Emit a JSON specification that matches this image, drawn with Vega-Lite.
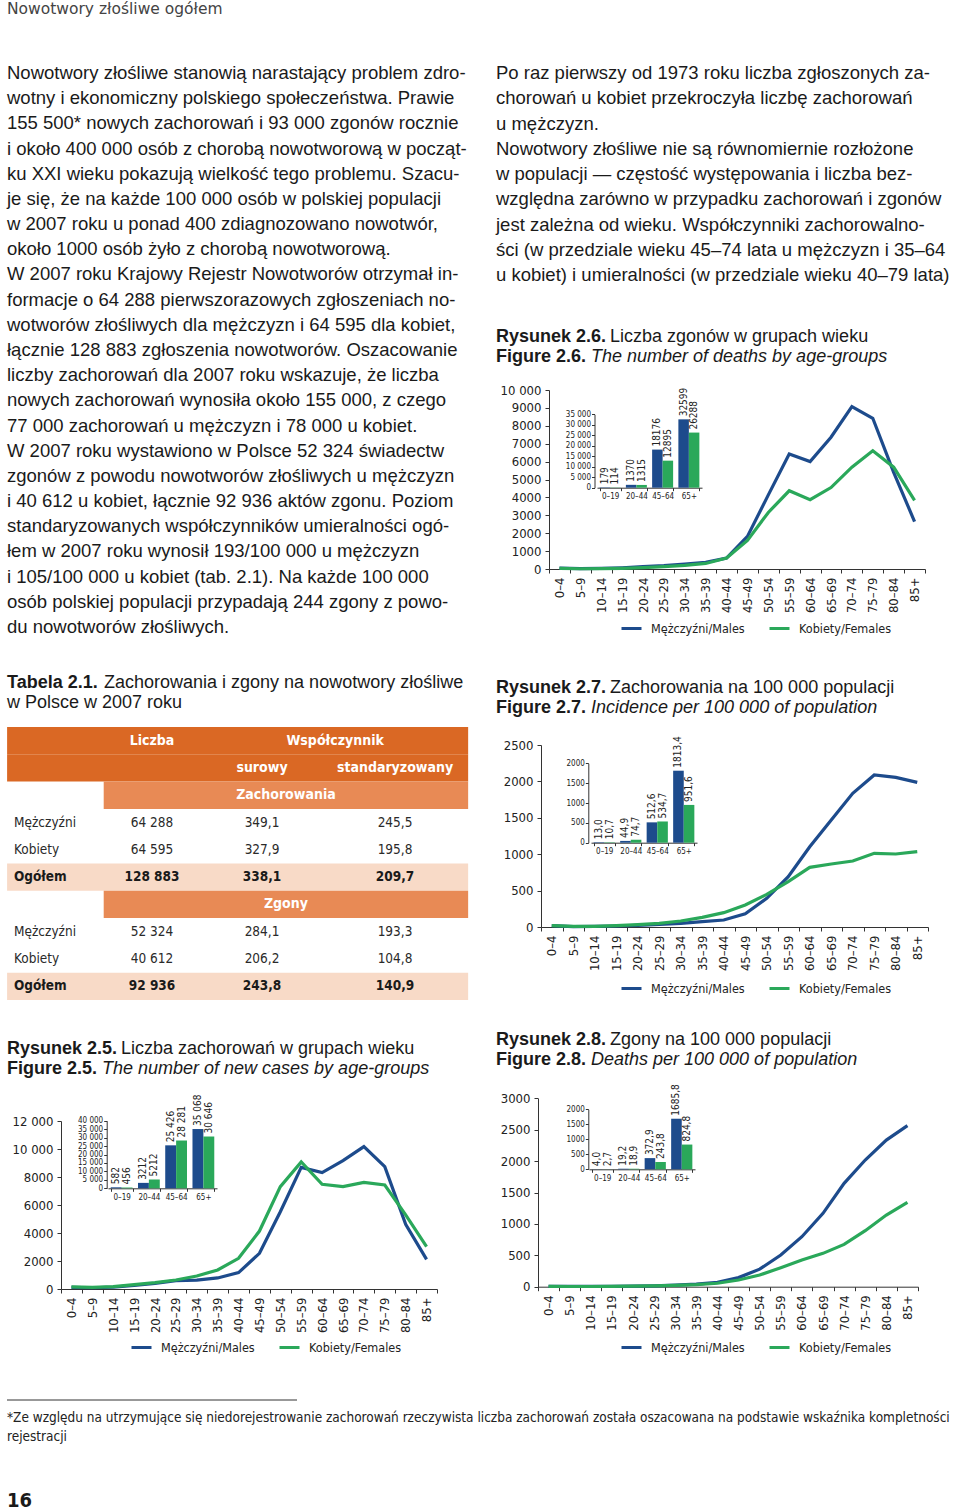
{
"$schema": "https://vega.github.io/schema/vega-lite/v6.json",
"background": "white",
"padding": {"left": 1, "top": 0, "right": 0, "bottom": 0},
"spacing": 0,
"config": {
  "view": {"stroke": null},
  "font": "Liberation Sans",
  "scale": {"pointPadding": 0},
  "axis": {"grid": false, "domainColor": "#333", "tickColor": "#333", "labelColor": "#222", "labelFont": "Liberation Sans Narrow, DejaVu Sans Condensed, Roboto Condensed, Arial Narrow, Roboto, sans-serif", "domainWidth": 1, "tickWidth": 1, "title": null},
  "legend": {"labelFont": "Liberation Sans Narrow, DejaVu Sans Condensed, Roboto Condensed, Arial Narrow, Roboto, sans-serif", "labelColor": "#222"}
},
"resolve": {"scale": {"color": "independent", "xOffset": "independent"}, "legend": {"color": "independent"}},
"vconcat": [
  {
    "width": 462, "height": 60,
    "data": {"values": [{"i": 1, "t": "Nowotwory złośliwe ogółem"}]},
    "mark": {"type": "text", "align": "left", "baseline": "middle", "font": "DejaVu Sans", "fontSize": 15.5, "color": "#444"},
    "encoding": {"x": {"value": 0}, "y": {"field": "i", "type": "ordinal", "scale": {"type": "point", "range": [9, 9], "padding": 0}, "axis": null}, "text": {"field": "t"}}
  },
  {
    "spacing": 21,
    "resolve": {"scale": {"color": "independent", "xOffset": "independent"}, "legend": {"color": "independent"}},
    "hconcat": [
      {
        "spacing": 0,
        "resolve": {"scale": {"color": "independent", "xOffset": "independent"}, "legend": {"color": "independent"}},
        "vconcat": [
          {
            "width": 462, "height": 600,
            "data": {"values": [
              {"i": 1, "t": "Nowotwory złośliwe stanowią narastający problem zdro-"},
              {"i": 2, "t": "wotny i ekonomiczny polskiego społeczeństwa. Prawie"},
              {"i": 3, "t": "155 500* nowych zachorowań i 93 000 zgonów rocznie"},
              {"i": 4, "t": "i około 400 000 osób z chorobą nowotworową w począt-"},
              {"i": 5, "t": "ku XXI wieku pokazują wielkość tego problemu. Szacu-"},
              {"i": 6, "t": "je się, że na każde 100 000 osób w polskiej populacji"},
              {"i": 7, "t": "w 2007 roku u ponad 400 zdiagnozowano nowotwór,"},
              {"i": 8, "t": "około 1000 osób żyło z chorobą nowotworową."},
              {"i": 9, "t": "W 2007 roku Krajowy Rejestr Nowotworów otrzymał in-"},
              {"i": 10, "t": "formacje o 64 288 pierwszorazowych zgłoszeniach no-"},
              {"i": 11, "t": "wotworów złośliwych dla mężczyzn i 64 595 dla kobiet,"},
              {"i": 12, "t": "łącznie 128 883 zgłoszenia nowotworów. Oszacowanie"},
              {"i": 13, "t": "liczby zachorowań dla 2007 roku wskazuje, że liczba"},
              {"i": 14, "t": "nowych zachorowań wynosiła około 155 000, z czego"},
              {"i": 15, "t": "77 000 zachorowań u mężczyzn i 78 000 u kobiet."},
              {"i": 16, "t": "W 2007 roku wystawiono w Polsce 52 324 świadectw"},
              {"i": 17, "t": "zgonów z powodu nowotworów złośliwych u mężczyzn"},
              {"i": 18, "t": "i 40 612 u kobiet, łącznie 92 936 aktów zgonu. Poziom"},
              {"i": 19, "t": "standaryzowanych współczynników umieralności ogó-"},
              {"i": 20, "t": "łem w 2007 roku wynosił 193/100 000 u mężczyzn"},
              {"i": 21, "t": "i 105/100 000 u kobiet (tab. 2.1). Na każde 100 000"},
              {"i": 22, "t": "osób polskiej populacji przypadają 244 zgony z powo-"},
              {"i": 23, "t": "du nowotworów złośliwych."}
            ]},
            "mark": {"type": "text", "align": "left", "baseline": "middle", "fontSize": 18.5, "color": "#1a1a1a"},
            "encoding": {"x": {"value": 0}, "y": {"field": "i", "type": "ordinal", "scale": {"type": "point", "range": [13, 567], "padding": 0}, "axis": null}, "text": {"field": "t"}}
          },
          {
            "width": 462, "height": 67,
            "data": {"values": [
              {"i": 1, "b": "Tabela 2.1.", "t": "Zachorowania i zgony na nowotwory złośliwe"},
              {"i": 2, "b": "", "t": "w Polsce w 2007 roku"}
            ]},
            "encoding": {"x": {"value": 0}, "y": {"field": "i", "type": "ordinal", "scale": {"type": "point", "range": [23, 43], "padding": 0}, "axis": null}},
            "layer": [
              {"mark": {"type": "text", "align": "left", "baseline": "middle", "fontSize": 18, "fontWeight": "bold", "color": "#1a1a1a"}, "encoding": {"text": {"field": "b"}}},
              {"transform": [{"filter": "datum.i == 1"}], "mark": {"type": "text", "align": "left", "baseline": "middle", "fontSize": 18, "dx": 97, "color": "#1a1a1a"}, "encoding": {"text": {"field": "t"}}},
              {"transform": [{"filter": "datum.i == 2"}], "mark": {"type": "text", "align": "left", "baseline": "middle", "fontSize": 18, "color": "#1a1a1a"}, "encoding": {"text": {"field": "t"}}}
            ]
          },
          {
            "width": 462, "height": 273,
            "encoding": {
              "y": {"field": "r", "type": "ordinal", "sort": null, "scale": {"type": "band", "domain": ["r1","r2","r3","r4","r5","r6","r7","r8","r9","r10"], "paddingInner": 0, "paddingOuter": 0}, "axis": null}
            },
            "layer": [
              {
                "data": {"values": [
                  {"r": "r1", "k": "h", "a": -0.05, "b": 3.55},
                  {"r": "r2", "k": "h", "a": -0.05, "b": 3.55},
                  {"r": "r3", "k": "s", "a": 0.65, "b": 3.55},
                  {"r": "r6", "k": "t", "a": -0.05, "b": 3.55},
                  {"r": "r7", "k": "s", "a": 0.65, "b": 3.55},
                  {"r": "r10", "k": "t", "a": -0.05, "b": 3.55}
                ]},
                "mark": {"type": "rect"},
                "encoding": {
                  "x": {"field": "a", "type": "quantitative", "scale": {"domain": [0, 1, 2, 3], "range": [7, 145, 255, 388], "nice": false, "zero": false}, "axis": null},
                  "x2": {"field": "b"},
                  "color": {"field": "k", "type": "nominal", "scale": {"domain": ["h", "s", "t"], "range": ["#da6824", "#e88a55", "#f8dac7"]}, "legend": null}
                }
              },
              {
                "data": {"values": [
                  {"r": "r1", "c": 1, "t": "Liczba", "s": "h"},
                  {"r": "r1", "c": 2.55, "t": "Współczynnik", "s": "h"},
                  {"r": "r2", "c": 2, "t": "surowy", "s": "h"},
                  {"r": "r2", "c": 3, "t": "standaryzowany", "s": "h"},
                  {"r": "r3", "c": 2.18, "t": "Zachorowania", "s": "h"},
                  {"r": "r4", "c": 0, "t": "Mężczyźni", "s": "l"},
                  {"r": "r4", "c": 1, "t": "64 288", "s": "n"},
                  {"r": "r4", "c": 2, "t": "349,1", "s": "n"},
                  {"r": "r4", "c": 3, "t": "245,5", "s": "n"},
                  {"r": "r5", "c": 0, "t": "Kobiety", "s": "l"},
                  {"r": "r5", "c": 1, "t": "64 595", "s": "n"},
                  {"r": "r5", "c": 2, "t": "327,9", "s": "n"},
                  {"r": "r5", "c": 3, "t": "195,8", "s": "n"},
                  {"r": "r6", "c": 0, "t": "Ogółem", "s": "lb"},
                  {"r": "r6", "c": 1, "t": "128 883", "s": "b"},
                  {"r": "r6", "c": 2, "t": "338,1", "s": "b"},
                  {"r": "r6", "c": 3, "t": "209,7", "s": "b"},
                  {"r": "r7", "c": 2.18, "t": "Zgony", "s": "h"},
                  {"r": "r8", "c": 0, "t": "Mężczyźni", "s": "l"},
                  {"r": "r8", "c": 1, "t": "52 324", "s": "n"},
                  {"r": "r8", "c": 2, "t": "284,1", "s": "n"},
                  {"r": "r8", "c": 3, "t": "193,3", "s": "n"},
                  {"r": "r9", "c": 0, "t": "Kobiety", "s": "l"},
                  {"r": "r9", "c": 1, "t": "40 612", "s": "n"},
                  {"r": "r9", "c": 2, "t": "206,2", "s": "n"},
                  {"r": "r9", "c": 3, "t": "104,8", "s": "n"},
                  {"r": "r10", "c": 0, "t": "Ogółem", "s": "lb"},
                  {"r": "r10", "c": 1, "t": "92 936", "s": "b"},
                  {"r": "r10", "c": 2, "t": "243,8", "s": "b"},
                  {"r": "r10", "c": 3, "t": "140,9", "s": "b"}
                ]},
                "encoding": {
                  "x": {"field": "c", "type": "quantitative", "scale": {"domain": [0, 1, 2, 3], "range": [7, 145, 255, 388], "nice": false, "zero": false}, "axis": null},
                  "text": {"field": "t"}
                },
                "layer": [
                  {"transform": [{"filter": "datum.s == 'h'"}], "mark": {"type": "text", "align": "center", "baseline": "middle", "font": "Liberation Sans Narrow, DejaVu Sans Condensed, Roboto Condensed, Roboto, sans-serif", "fontSize": 14, "fontWeight": "bold", "color": "white"}},
                  {"transform": [{"filter": "datum.s == 'n'"}], "mark": {"type": "text", "align": "center", "baseline": "middle", "font": "Liberation Sans Narrow, DejaVu Sans Condensed, Roboto Condensed, Roboto, sans-serif", "fontSize": 13.5, "color": "#2a2a2a"}},
                  {"transform": [{"filter": "datum.s == 'b'"}], "mark": {"type": "text", "align": "center", "baseline": "middle", "font": "Liberation Sans Narrow, DejaVu Sans Condensed, Roboto Condensed, Roboto, sans-serif", "fontSize": 13.5, "fontWeight": "bold", "color": "#1a1a1a"}},
                  {"transform": [{"filter": "datum.s == 'l'"}], "mark": {"type": "text", "align": "left", "baseline": "middle", "font": "Liberation Sans Narrow, DejaVu Sans Condensed, Roboto Condensed, Roboto, sans-serif", "fontSize": 13.5, "color": "#2a2a2a"}},
                  {"transform": [{"filter": "datum.s == 'lb'"}], "mark": {"type": "text", "align": "left", "baseline": "middle", "font": "Liberation Sans Narrow, DejaVu Sans Condensed, Roboto Condensed, Roboto, sans-serif", "fontSize": 13.5, "fontWeight": "bold", "color": "#1a1a1a"}}
                ]
              }
            ]
          },
          {
            "width": 462, "height": 370,
            "resolve": {"scale": {"x": "independent", "y": "independent"}, "axis": {"x": "independent", "y": "independent"}},
            "layer": [
              {
                "data": {"values": [
                  {"i": 1, "b": "Rysunek 2.5.", "t": "Liczba zachorowań w grupach wieku"},
                  {"i": 2, "b": "Figure 2.5.", "t": "The number of new cases by age-groups"}
                ]},
                "encoding": {"x": {"value": 0}, "y": {"field": "i", "type": "ordinal", "scale": {"type": "point", "range": [49, 69], "padding": 0}, "axis": null}},
                "layer": [
                  {"mark": {"type": "text", "align": "left", "baseline": "middle", "fontSize": 18, "fontWeight": "bold", "color": "#1a1a1a"}, "encoding": {"text": {"field": "b"}}},
                  {"transform": [{"filter": "datum.i == 1"}], "mark": {"type": "text", "align": "left", "baseline": "middle", "fontSize": 18, "dx": 114, "color": "#1a1a1a"}, "encoding": {"text": {"field": "t"}}},
                  {"transform": [{"filter": "datum.i == 2"}], "mark": {"type": "text", "align": "left", "baseline": "middle", "fontSize": 18, "dx": 95, "fontStyle": "italic", "color": "#1a1a1a"}, "encoding": {"text": {"field": "t"}}}
                ]
              },
              {
                "data": {"values": [
                  {"age": "0–4", "M": 120, "K": 150},
                  {"age": "5–9", "M": 90, "K": 120},
                  {"age": "10–14", "M": 130, "K": 170},
                  {"age": "15–19", "M": 250, "K": 310},
                  {"age": "20–24", "M": 400, "K": 450},
                  {"age": "25–29", "M": 600, "K": 640},
                  {"age": "30–34", "M": 640, "K": 930},
                  {"age": "35–39", "M": 790, "K": 1360},
                  {"age": "40–44", "M": 1170, "K": 2190},
                  {"age": "45–49", "M": 2550, "K": 4140},
                  {"age": "50–54", "M": 5520, "K": 7310},
                  {"age": "55–59", "M": 8690, "K": 9070},
                  {"age": "60–64", "M": 8310, "K": 7480},
                  {"age": "65–69", "M": 9170, "K": 7310},
                  {"age": "70–74", "M": 10170, "K": 7620},
                  {"age": "75–79", "M": 8740, "K": 7430},
                  {"age": "80–84", "M": 4620, "K": 5290},
                  {"age": "85+", "M": 2120, "K": 3020}
                ]},
                "transform": [{"fold": ["M", "K"], "as": ["sex", "v"]}],
                "mark": {"type": "line", "strokeWidth": 3.2},
                "encoding": {
                  "x": {"field": "age", "type": "nominal", "sort": null, "scale": {"type": "band", "range": [54, 430], "paddingInner": 0, "paddingOuter": 0}, "axis": {"orient": "bottom", "offset": -81, "labelAngle": 270, "labelFontSize": 13, "tickBand": "extent", "tickSize": 4, "labelPadding": 4}},
                  "y": {"field": "v", "type": "quantitative", "scale": {"domain": [0, 12000], "range": [289, 121], "nice": false}, "axis": {"orient": "left", "offset": -54, "values": [0, 2000, 4000, 6000, 8000, 10000, 12000], "labelExpr": "datum.value >= 10000 ? replace(format(datum.value, ','), ',', ' ') : format(datum.value, 'd')", "labelFontSize": 13, "tickSize": 4, "labelPadding": 4}},
                  "color": {"field": "sex", "type": "nominal", "scale": {"domain": ["M", "K"], "range": ["#1d4b8c", "#2aa85a"]}, "legend": {"orient": "none", "legendX": 123, "legendY": 336, "direction": "horizontal", "title": null, "symbolType": "stroke", "symbolSize": 400, "symbolStrokeWidth": 3, "labelFontSize": 12.5, "labelOffset": 8, "columnPadding": 18, "labelLimit": 300, "labelExpr": "datum.label == 'M' ? 'Mężczyźni/Males' : 'Kobiety/Females'"}}
                }
              },
              {
                "data": {"values": [
                  {"g": "0–19", "sex": "M", "v": 582, "lab": "582"},
                  {"g": "0–19", "sex": "K", "v": 456, "lab": "456"},
                  {"g": "20–44", "sex": "M", "v": 3212, "lab": "3212"},
                  {"g": "20–44", "sex": "K", "v": 5212, "lab": "5212"},
                  {"g": "45–64", "sex": "M", "v": 25426, "lab": "25 426"},
                  {"g": "45–64", "sex": "K", "v": 28281, "lab": "28 281"},
                  {"g": "65+", "sex": "M", "v": 35068, "lab": "35 068"},
                  {"g": "65+", "sex": "K", "v": 30646, "lab": "30 646"}
                ]},
                "encoding": {
                  "x": {"field": "g", "type": "nominal", "sort": null, "scale": {"type": "band", "range": [101, 210], "paddingInner": 0.2, "paddingOuter": 0.1}, "axis": {"orient": "bottom", "offset": -181.7, "labelAngle": 0, "labelFontSize": 8, "tickBand": "extent", "tickSize": 3, "labelPadding": 2}},
                  "xOffset": {"field": "sex", "type": "nominal", "scale": {"domain": ["M", "K"]}},
                  "y": {"field": "v", "type": "quantitative", "scale": {"domain": [0, 40000], "range": [188.3, 120.7], "nice": false}, "axis": {"orient": "left", "offset": -99.7, "values": [0, 5000, 10000, 15000, 20000, 25000, 30000, 35000, 40000], "labelExpr": "datum.value >= 1000 ? replace(format(datum.value, ','), ',', ' ') : '0'", "labelFontSize": 8, "tickSize": 3, "labelPadding": 1}}
                },
                "layer": [
                  {"mark": {"type": "bar"}, "encoding": {"color": {"field": "sex", "type": "nominal"}}},
                  {"mark": {"type": "text", "angle": 270, "align": "left", "baseline": "middle", "dx": 3, "fontSize": 10, "font": "Liberation Sans Narrow, DejaVu Sans Condensed, Roboto Condensed, Roboto, sans-serif", "color": "#222"}, "encoding": {"text": {"field": "lab"}}}
                ]
              }
            ]
          }
        ]
      },
      {
        "spacing": 0,
        "resolve": {"scale": {"color": "independent", "xOffset": "independent"}, "legend": {"color": "independent"}},
        "vconcat": [
          {
            "width": 460, "height": 260,
            "data": {"values": [
              {"i": 1, "t": "Po raz pierwszy od 1973 roku liczba zgłoszonych za-"},
              {"i": 2, "t": "chorowań u kobiet przekroczyła liczbę zachorowań"},
              {"i": 3, "t": "u mężczyzn."},
              {"i": 4, "t": "Nowotwory złośliwe nie są równomiernie rozłożone"},
              {"i": 5, "t": "w populacji — częstość występowania i liczba bez-"},
              {"i": 6, "t": "względna zarówno w przypadku zachorowań i zgonów"},
              {"i": 7, "t": "jest zależna od wieku. Współczynniki zachorowalno-"},
              {"i": 8, "t": "ści (w przedziale wieku 45–74 lata u mężczyzn i 35–64"},
              {"i": 9, "t": "u kobiet) i umieralności (w przedziale wieku 40–79 lata)"}
            ]},
            "mark": {"type": "text", "align": "left", "baseline": "middle", "fontSize": 18.5, "color": "#1a1a1a"},
            "encoding": {"x": {"value": 0}, "y": {"field": "i", "type": "ordinal", "scale": {"type": "point", "range": [13, 215], "padding": 0}, "axis": null}, "text": {"field": "t"}}
          },
          {
            "width": 460, "height": 350,
            "resolve": {"scale": {"x": "independent", "y": "independent"}, "axis": {"x": "independent", "y": "independent"}},
            "layer": [
              {
                "data": {"values": [
                  {"i": 1, "b": "Rysunek 2.6.", "t": "Liczba zgonów w grupach wieku"},
                  {"i": 2, "b": "Figure 2.6.", "t": "The number of deaths by age-groups"}
                ]},
                "encoding": {"x": {"value": 0}, "y": {"field": "i", "type": "ordinal", "scale": {"type": "point", "range": [17, 37], "padding": 0}, "axis": null}},
                "layer": [
                  {"mark": {"type": "text", "align": "left", "baseline": "middle", "fontSize": 18, "fontWeight": "bold", "color": "#1a1a1a"}, "encoding": {"text": {"field": "b"}}},
                  {"transform": [{"filter": "datum.i == 1"}], "mark": {"type": "text", "align": "left", "baseline": "middle", "fontSize": 18, "dx": 114, "color": "#1a1a1a"}, "encoding": {"text": {"field": "t"}}},
                  {"transform": [{"filter": "datum.i == 2"}], "mark": {"type": "text", "align": "left", "baseline": "middle", "fontSize": 18, "dx": 95, "fontStyle": "italic", "color": "#1a1a1a"}, "encoding": {"text": {"field": "t"}}}
                ]
              },
              {
                "data": {"values": [
                  {"age": "0–4", "M": 50, "K": 40},
                  {"age": "5–9", "M": 20, "K": 15},
                  {"age": "10–14", "M": 35, "K": 25},
                  {"age": "15–19", "M": 70, "K": 40},
                  {"age": "20–24", "M": 130, "K": 80},
                  {"age": "25–29", "M": 185, "K": 130},
                  {"age": "30–34", "M": 280, "K": 200},
                  {"age": "35–39", "M": 370, "K": 310},
                  {"age": "40–44", "M": 610, "K": 610},
                  {"age": "45–49", "M": 1820, "K": 1600},
                  {"age": "50–54", "M": 4140, "K": 3160},
                  {"age": "55–59", "M": 6430, "K": 4370},
                  {"age": "60–64", "M": 6000, "K": 3870},
                  {"age": "65–69", "M": 7360, "K": 4550},
                  {"age": "70–74", "M": 9070, "K": 5690},
                  {"age": "75–79", "M": 8420, "K": 6600},
                  {"age": "80–84", "M": 5400, "K": 5690},
                  {"age": "85+", "M": 2650, "K": 3830}
                ]},
                "transform": [{"fold": ["M", "K"], "as": ["sex", "v"]}],
                "mark": {"type": "line", "strokeWidth": 3.2},
                "encoding": {
                  "x": {"field": "age", "type": "nominal", "sort": null, "scale": {"type": "band", "range": [53, 429], "paddingInner": 0, "paddingOuter": 0}, "axis": {"orient": "bottom", "offset": -101, "labelAngle": 270, "labelFontSize": 13, "tickBand": "extent", "tickSize": 4, "labelPadding": 4}},
                  "y": {"field": "v", "type": "quantitative", "scale": {"domain": [0, 10000], "range": [249, 70], "nice": false}, "axis": {"orient": "left", "offset": -53, "values": [0, 1000, 2000, 3000, 4000, 5000, 6000, 7000, 8000, 9000, 10000], "labelExpr": "datum.value >= 10000 ? replace(format(datum.value, ','), ',', ' ') : format(datum.value, 'd')", "labelFontSize": 13, "tickSize": 4, "labelPadding": 4}},
                  "color": {"field": "sex", "type": "nominal", "scale": {"domain": ["M", "K"], "range": ["#1d4b8c", "#2aa85a"]}, "legend": {"orient": "none", "legendX": 124, "legendY": 297, "direction": "horizontal", "title": null, "symbolType": "stroke", "symbolSize": 400, "symbolStrokeWidth": 3, "labelFontSize": 12.5, "labelOffset": 8, "columnPadding": 18, "labelLimit": 300, "labelExpr": "datum.label == 'M' ? 'Mężczyźni/Males' : 'Kobiety/Females'"}}
                }
              },
              {
                "data": {"values": [
                  {"g": "0–19", "sex": "M", "v": 179, "lab": "179"},
                  {"g": "0–19", "sex": "K", "v": 114, "lab": "114"},
                  {"g": "20–44", "sex": "M", "v": 1370, "lab": "1370"},
                  {"g": "20–44", "sex": "K", "v": 1315, "lab": "1315"},
                  {"g": "45–64", "sex": "M", "v": 18176, "lab": "18176"},
                  {"g": "45–64", "sex": "K", "v": 12895, "lab": "12895"},
                  {"g": "65+", "sex": "M", "v": 32599, "lab": "32599"},
                  {"g": "65+", "sex": "K", "v": 26288, "lab": "26288"}
                ]},
                "encoding": {
                  "x": {"field": "g", "type": "nominal", "sort": null, "scale": {"type": "band", "range": [101, 206], "paddingInner": 0.2, "paddingOuter": 0.1}, "axis": {"orient": "bottom", "offset": -182.3, "labelAngle": 0, "labelFontSize": 8, "tickBand": "extent", "tickSize": 3, "labelPadding": 2}},
                  "xOffset": {"field": "sex", "type": "nominal", "scale": {"domain": ["M", "K"]}},
                  "y": {"field": "v", "type": "quantitative", "scale": {"domain": [0, 35000], "range": [167.7, 94.3], "nice": false}, "axis": {"orient": "left", "offset": -98.5, "values": [0, 5000, 10000, 15000, 20000, 25000, 30000, 35000], "labelExpr": "datum.value >= 1000 ? replace(format(datum.value, ','), ',', ' ') : '0'", "labelFontSize": 8, "tickSize": 3, "labelPadding": 1}}
                },
                "layer": [
                  {"mark": {"type": "bar"}, "encoding": {"color": {"field": "sex", "type": "nominal"}}},
                  {"mark": {"type": "text", "angle": 270, "align": "left", "baseline": "middle", "dx": 3, "fontSize": 10, "font": "Liberation Sans Narrow, DejaVu Sans Condensed, Roboto Condensed, Roboto, sans-serif", "color": "#222"}, "encoding": {"text": {"field": "lab"}}}
                ]
              }
            ]
          },
          {
            "width": 460, "height": 355,
            "resolve": {"scale": {"x": "independent", "y": "independent"}, "axis": {"x": "independent", "y": "independent"}},
            "layer": [
              {
                "data": {"values": [
                  {"i": 1, "b": "Rysunek 2.7.", "t": "Zachorowania na 100 000 populacji"},
                  {"i": 2, "b": "Figure 2.7.", "t": "Incidence per 100 000 of population"}
                ]},
                "encoding": {"x": {"value": 0}, "y": {"field": "i", "type": "ordinal", "scale": {"type": "point", "range": [18, 38], "padding": 0}, "axis": null}},
                "layer": [
                  {"mark": {"type": "text", "align": "left", "baseline": "middle", "fontSize": 18, "fontWeight": "bold", "color": "#1a1a1a"}, "encoding": {"text": {"field": "b"}}},
                  {"transform": [{"filter": "datum.i == 1"}], "mark": {"type": "text", "align": "left", "baseline": "middle", "fontSize": 18, "dx": 114, "color": "#1a1a1a"}, "encoding": {"text": {"field": "t"}}},
                  {"transform": [{"filter": "datum.i == 2"}], "mark": {"type": "text", "align": "left", "baseline": "middle", "fontSize": 18, "dx": 95, "fontStyle": "italic", "color": "#1a1a1a"}, "encoding": {"text": {"field": "t"}}}
                ]
              },
              {
                "data": {"values": [
                  {"age": "0–4", "M": 18, "K": 18},
                  {"age": "5–9", "M": 5, "K": 9},
                  {"age": "10–14", "M": 9, "K": 9},
                  {"age": "15–19", "M": 14, "K": 18},
                  {"age": "20–24", "M": 23, "K": 32},
                  {"age": "25–29", "M": 37, "K": 50},
                  {"age": "30–34", "M": 50, "K": 82},
                  {"age": "35–39", "M": 73, "K": 133},
                  {"age": "40–44", "M": 96, "K": 197},
                  {"age": "45–49", "M": 183, "K": 302},
                  {"age": "50–54", "M": 394, "K": 449},
                  {"age": "55–59", "M": 691, "K": 623},
                  {"age": "60–64", "M": 1103, "K": 820},
                  {"age": "65–69", "M": 1470, "K": 865},
                  {"age": "70–74", "M": 1836, "K": 907},
                  {"age": "75–79", "M": 2088, "K": 1012},
                  {"age": "80–84", "M": 2056, "K": 1003},
                  {"age": "85+", "M": 1987, "K": 1035}
                ]},
                "transform": [{"fold": ["M", "K"], "as": ["sex", "v"]}],
                "mark": {"type": "line", "strokeWidth": 3.2},
                "encoding": {
                  "x": {"field": "age", "type": "nominal", "sort": null, "scale": {"type": "band", "range": [45, 432], "paddingInner": 0, "paddingOuter": 0}, "axis": {"orient": "bottom", "offset": -98, "labelAngle": 270, "labelFontSize": 13, "tickBand": "extent", "tickSize": 4, "labelPadding": 4}},
                  "y": {"field": "v", "type": "quantitative", "scale": {"domain": [0, 2500], "range": [257, 75], "nice": false}, "axis": {"orient": "left", "offset": -45, "values": [0, 500, 1000, 1500, 2000, 2500], "format": "d", "labelFontSize": 13, "tickSize": 4, "labelPadding": 4}},
                  "color": {"field": "sex", "type": "nominal", "scale": {"domain": ["M", "K"], "range": ["#1d4b8c", "#2aa85a"]}, "legend": {"orient": "none", "legendX": 124, "legendY": 307, "direction": "horizontal", "title": null, "symbolType": "stroke", "symbolSize": 400, "symbolStrokeWidth": 3, "labelFontSize": 12.5, "labelOffset": 8, "columnPadding": 18, "labelLimit": 300, "labelExpr": "datum.label == 'M' ? 'Mężczyźni/Males' : 'Kobiety/Females'"}}
                }
              },
              {
                "data": {"values": [
                  {"g": "0–19", "sex": "M", "v": 13.0, "lab": "13,0"},
                  {"g": "0–19", "sex": "K", "v": 10.7, "lab": "10,7"},
                  {"g": "20–44", "sex": "M", "v": 44.9, "lab": "44,9"},
                  {"g": "20–44", "sex": "K", "v": 74.7, "lab": "74,7"},
                  {"g": "45–64", "sex": "M", "v": 512.6, "lab": "512,6"},
                  {"g": "45–64", "sex": "K", "v": 534.7, "lab": "534,7"},
                  {"g": "65+", "sex": "M", "v": 1813.4, "lab": "1813,4"},
                  {"g": "65+", "sex": "K", "v": 951.6, "lab": "951,6"}
                ]},
                "encoding": {
                  "x": {"field": "g", "type": "nominal", "sort": null, "scale": {"type": "band", "range": [95, 201], "paddingInner": 0.2, "paddingOuter": 0.1}, "axis": {"orient": "bottom", "offset": -182.3, "labelAngle": 0, "labelFontSize": 8, "tickBand": "extent", "tickSize": 3, "labelPadding": 2}},
                  "xOffset": {"field": "sex", "type": "nominal", "scale": {"domain": ["M", "K"]}},
                  "y": {"field": "v", "type": "quantitative", "scale": {"domain": [0, 2000], "range": [172.7, 93.3], "nice": false}, "axis": {"orient": "left", "offset": -92.3, "values": [0, 500, 1000, 1500, 2000], "format": "d", "labelFontSize": 8, "tickSize": 3, "labelPadding": 1}}
                },
                "layer": [
                  {"mark": {"type": "bar"}, "encoding": {"color": {"field": "sex", "type": "nominal"}}},
                  {"mark": {"type": "text", "angle": 270, "align": "left", "baseline": "middle", "dx": 3, "fontSize": 10, "font": "Liberation Sans Narrow, DejaVu Sans Condensed, Roboto Condensed, Roboto, sans-serif", "color": "#222"}, "encoding": {"text": {"field": "lab"}}}
                ]
              }
            ]
          },
          {
            "width": 460, "height": 345,
            "resolve": {"scale": {"x": "independent", "y": "independent"}, "axis": {"x": "independent", "y": "independent"}},
            "layer": [
              {
                "data": {"values": [
                  {"i": 1, "b": "Rysunek 2.8.", "t": "Zgony na 100 000 populacji"},
                  {"i": 2, "b": "Figure 2.8.", "t": "Deaths per 100 000 of population"}
                ]},
                "encoding": {"x": {"value": 0}, "y": {"field": "i", "type": "ordinal", "scale": {"type": "point", "range": [15, 35], "padding": 0}, "axis": null}},
                "layer": [
                  {"mark": {"type": "text", "align": "left", "baseline": "middle", "fontSize": 18, "fontWeight": "bold", "color": "#1a1a1a"}, "encoding": {"text": {"field": "b"}}},
                  {"transform": [{"filter": "datum.i == 1"}], "mark": {"type": "text", "align": "left", "baseline": "middle", "fontSize": 18, "dx": 114, "color": "#1a1a1a"}, "encoding": {"text": {"field": "t"}}},
                  {"transform": [{"filter": "datum.i == 2"}], "mark": {"type": "text", "align": "left", "baseline": "middle", "fontSize": 18, "dx": 95, "fontStyle": "italic", "color": "#1a1a1a"}, "encoding": {"text": {"field": "t"}}}
                ]
              },
              {
                "data": {"values": [
                  {"age": "0–4", "M": 5, "K": 4},
                  {"age": "5–9", "M": 4, "K": 3},
                  {"age": "10–14", "M": 4, "K": 3},
                  {"age": "15–19", "M": 5, "K": 4},
                  {"age": "20–24", "M": 8, "K": 8},
                  {"age": "25–29", "M": 13, "K": 12},
                  {"age": "30–34", "M": 25, "K": 20},
                  {"age": "35–39", "M": 40, "K": 33},
                  {"age": "40–44", "M": 70, "K": 55},
                  {"age": "45–49", "M": 145, "K": 106},
                  {"age": "50–54", "M": 280, "K": 186},
                  {"age": "55–59", "M": 505, "K": 303},
                  {"age": "60–64", "M": 796, "K": 425},
                  {"age": "65–69", "M": 1168, "K": 531},
                  {"age": "70–74", "M": 1646, "K": 674},
                  {"age": "75–79", "M": 2017, "K": 892},
                  {"age": "80–84", "M": 2335, "K": 1141},
                  {"age": "85+", "M": 2564, "K": 1343}
                ]},
                "transform": [{"fold": ["M", "K"], "as": ["sex", "v"]}],
                "mark": {"type": "line", "strokeWidth": 3.2},
                "encoding": {
                  "x": {"field": "age", "type": "nominal", "sort": null, "scale": {"type": "band", "range": [42, 422], "paddingInner": 0, "paddingOuter": 0}, "axis": {"orient": "bottom", "offset": -83.3, "labelAngle": 270, "labelFontSize": 13, "tickBand": "extent", "tickSize": 4, "labelPadding": 4}},
                  "y": {"field": "v", "type": "quantitative", "scale": {"domain": [0, 3000], "range": [261.7, 73.3], "nice": false}, "axis": {"orient": "left", "offset": -42, "values": [0, 500, 1000, 1500, 2000, 2500, 3000], "format": "d", "labelFontSize": 13, "tickSize": 4, "labelPadding": 4}},
                  "color": {"field": "sex", "type": "nominal", "scale": {"domain": ["M", "K"], "range": ["#1d4b8c", "#2aa85a"]}, "legend": {"orient": "none", "legendX": 124, "legendY": 311, "direction": "horizontal", "title": null, "symbolType": "stroke", "symbolSize": 400, "symbolStrokeWidth": 3, "labelFontSize": 12.5, "labelOffset": 8, "columnPadding": 18, "labelLimit": 300, "labelExpr": "datum.label == 'M' ? 'Mężczyźni/Males' : 'Kobiety/Females'"}}
                }
              },
              {
                "data": {"values": [
                  {"g": "0–19", "sex": "M", "v": 4.0, "lab": "4,0"},
                  {"g": "0–19", "sex": "K", "v": 2.7, "lab": "2,7"},
                  {"g": "20–44", "sex": "M", "v": 19.2, "lab": "19,2"},
                  {"g": "20–44", "sex": "K", "v": 18.9, "lab": "18,9"},
                  {"g": "45–64", "sex": "M", "v": 372.9, "lab": "372,9"},
                  {"g": "45–64", "sex": "K", "v": 243.8, "lab": "243,8"},
                  {"g": "65+", "sex": "M", "v": 1685.8, "lab": "1685,8"},
                  {"g": "65+", "sex": "K", "v": 824.8, "lab": "824,8"}
                ]},
                "encoding": {
                  "x": {"field": "g", "type": "nominal", "sort": null, "scale": {"type": "band", "range": [93, 199], "paddingInner": 0.2, "paddingOuter": 0.1}, "axis": {"orient": "bottom", "offset": -200.7, "labelAngle": 0, "labelFontSize": 8, "tickBand": "extent", "tickSize": 3, "labelPadding": 2}},
                  "xOffset": {"field": "sex", "type": "nominal", "scale": {"domain": ["M", "K"]}},
                  "y": {"field": "v", "type": "quantitative", "scale": {"domain": [0, 2000], "range": [144.3, 84.3], "nice": false}, "axis": {"orient": "left", "offset": -92.3, "values": [0, 500, 1000, 1500, 2000], "format": "d", "labelFontSize": 8, "tickSize": 3, "labelPadding": 1}}
                },
                "layer": [
                  {"mark": {"type": "bar"}, "encoding": {"color": {"field": "sex", "type": "nominal"}}},
                  {"mark": {"type": "text", "angle": 270, "align": "left", "baseline": "middle", "dx": 3, "fontSize": 10, "font": "Liberation Sans Narrow, DejaVu Sans Condensed, Roboto Condensed, Roboto, sans-serif", "color": "#222"}, "encoding": {"text": {"field": "lab"}}}
                ]
              }
            ]
          }
        ]
      }
    ]
  },
  {
    "width": 290, "height": 30,
    "data": {"values": [{"k": 1}]},
    "mark": {"type": "rule", "color": "#333", "strokeWidth": 1},
    "encoding": {"x": {"value": 0}, "x2": {"value": "width"}, "y": {"value": "height"}}
  },
  {
    "width": 953, "height": 90,
    "data": {"values": [
      {"i": 1, "t": "*Ze względu na utrzymujące się niedorejestrowanie zachorowań rzeczywista liczba zachorowań została oszacowana na podstawie wskaźnika kompletności"},
      {"i": 2, "t": "rejestracji"}
    ]},
    "mark": {"type": "text", "align": "left", "baseline": "middle", "font": "Liberation Sans Narrow, DejaVu Sans Condensed, Roboto Condensed, Roboto, sans-serif", "fontSize": 13.5, "color": "#222"},
    "encoding": {"x": {"value": 0}, "y": {"field": "i", "type": "ordinal", "scale": {"type": "point", "range": [17, 36], "padding": 0}, "axis": null}, "text": {"field": "t"}}
  },
  {
    "width": 100, "height": 20,
    "data": {"values": [{"i": 1, "t": "16"}]},
    "mark": {"type": "text", "align": "left", "baseline": "middle", "font": "Liberation Sans Narrow, DejaVu Sans Condensed, Roboto Condensed, Roboto, sans-serif", "fontSize": 20, "fontWeight": "bold", "color": "#1a1a1a"},
    "encoding": {"x": {"value": 0}, "y": {"field": "i", "type": "ordinal", "scale": {"type": "point", "range": [10, 10], "padding": 0}, "axis": null}, "text": {"field": "t"}}
  }
]
}
